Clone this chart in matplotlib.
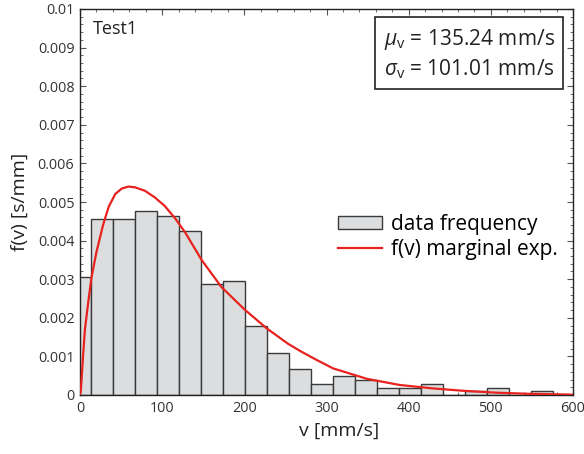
import matplotlib
matplotlib.use("Agg")
import matplotlib.pyplot as plt
from matplotlib.ticker import AutoMinorLocator

plt.rcParams["font.family"] = ["Open Sans", "DejaVu Sans"]
plt.rcParams["mathtext.fontset"] = "custom"
plt.rcParams["mathtext.rm"] = "Open Sans"
plt.rcParams["mathtext.it"] = "Open Sans:italic"

# histogram (density)
bin_width = 26.76
bin_edges = [-13.38 + bin_width * k for k in range(23)]
bar_heights = [0.00306, 0.00456, 0.00456, 0.00477, 0.00465, 0.00425,
               0.00287, 0.00296, 0.00178, 0.00108, 0.00068, 0.00029,
               0.00048, 0.00039, 0.00019, 0.00019, 0.00029, 0.0,
               0.00010, 0.00019, 0.0, 0.00010]

# marginal curve, points
curve_v = [0, 1, 4, 6, 10, 14, 20, 28, 35, 43, 51, 59, 67, 79, 91, 103,
           116, 128, 148, 172, 200, 227, 253, 268, 286, 308, 349, 389, 430,
           466, 507, 548, 600]
curve_f = [0.0, 0.0001, 0.0011, 0.0017, 0.0024, 0.00305, 0.0037, 0.0044,
           0.00488, 0.00521, 0.00535, 0.0054, 0.00538, 0.00529, 0.00512,
           0.0049, 0.00457, 0.00421, 0.0035, 0.0028, 0.00222, 0.00173,
           0.00133, 0.00114, 0.00093, 0.00069, 0.00042, 0.00026, 0.00017,
           0.00011, 0.00006, 0.00003, 0.00001]

x_ticks = [0, 100, 200, 300, 400, 500, 600]
y_ticks = [0, 0.001, 0.002, 0.003, 0.004, 0.005, 0.006, 0.007, 0.008, 0.009, 0.01]
y_tick_labels = ["0", "0.001", "0.002", "0.003", "0.004", "0.005", "0.006",
                 "0.007", "0.008", "0.009", "0.01"]

fig = plt.figure(figsize=(5.84, 4.54), dpi=100)
ax = fig.add_axes([80 / 584, 1 - 395 / 454, 493 / 584, 386 / 454])

bars = ax.bar(bin_edges[:-1], bar_heights, width=bin_width, align="edge",
              color="#dcdddf", edgecolor="#3a3a3a", linewidth=1.0,
              label="data frequency", zorder=2)
line, = ax.plot(curve_v, curve_f, color="#e8221e", linewidth=1.6,
                label="f(v) marginal exp.", zorder=3)

ax.set_xlim(0, 600)
ax.set_ylim(0, 0.01)
ax.set_xticks(x_ticks)
ax.set_yticks(y_ticks)
ax.set_yticklabels(y_tick_labels)
ax.xaxis.set_minor_locator(AutoMinorLocator(5))
ax.yaxis.set_minor_locator(AutoMinorLocator(5))
ax.tick_params(which="both", direction="in", top=True, right=True,
               labelsize=10.4, labelcolor="#333333", color="#555555")
ax.tick_params(which="major", length=4, width=0.8, pad=4)
ax.tick_params(which="minor", length=2, width=0.6)
for s in ax.spines.values():
    s.set_linewidth(1.0)
    s.set_color("#222222")

ax.set_xlabel("v [mm/s]", fontsize=14, color="#222222")
ax.xaxis.set_label_coords(0.525, -0.07)
ax.set_ylabel("f(v) [s/mm]", fontsize=14, color="#222222")
ax.yaxis.set_label_coords(-0.103, 0.5)

ax.text(0.027, 0.972, "Test1", transform=ax.transAxes, fontsize=13,
        ha="left", va="top", color="#222222")

ax.text(0.963, 0.953,
        r"$\mu_{\rm v}$ = 135.24 mm/s" + "\n" + r"$\sigma_{\rm v}$ = 101.01 mm/s",
        transform=ax.transAxes, fontsize=15, ha="right", va="top",
        multialignment="right", color="#222222", linespacing=1.3,
        bbox=dict(boxstyle="square,pad=0.4", fc="white", ec="#222222", lw=1.2))

ax.legend([bars, line], ["data frequency", "f(v) marginal exp."],
          loc="upper left", bbox_to_anchor=(0.486, 0.518), frameon=False,
          fontsize=15, handlelength=2.1, handletextpad=0.45,
          labelspacing=0.2, handleheight=0.6)

fig.savefig("out.png", dpi=100)
